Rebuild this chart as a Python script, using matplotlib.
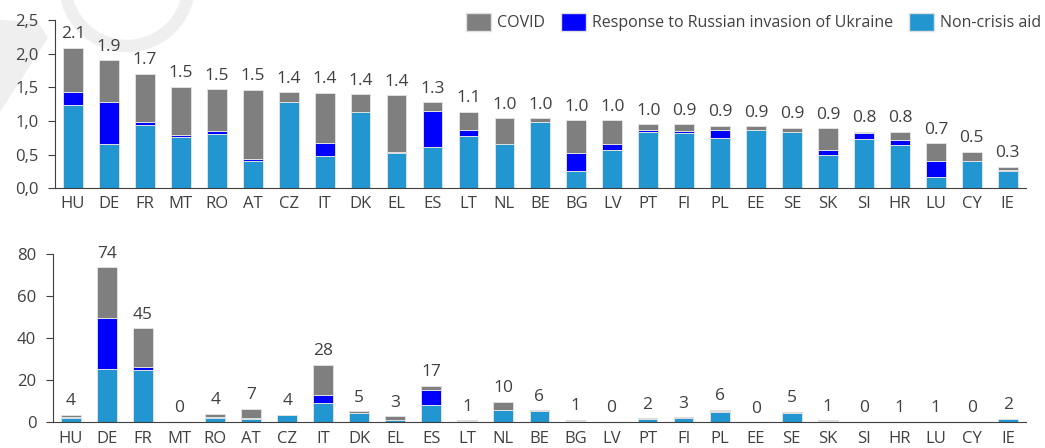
import matplotlib
matplotlib.use("Agg")
import matplotlib.pyplot as plt
import numpy as np
from matplotlib.patches import Patch, Arc, Polygon

plt.rcParams['font.family'] = ['Open Sans', 'DejaVu Sans']

countries = ["HU", "DE", "FR", "MT", "RO", "AT", "CZ", "IT", "DK", "EL", "ES", "LT", "NL", "BE",
             "BG", "LV", "PT", "FI", "PL", "EE", "SE", "SK", "SI", "HR", "LU", "CY", "IE"]

# Top panel: % of GDP
top_noncrisis = [1.24, 0.66, 0.94, 0.76, 0.80, 0.41, 1.28, 0.48, 1.14, 0.52, 0.61, 0.77, 0.65, 0.99,
                 0.26, 0.57, 0.84, 0.82, 0.75, 0.86, 0.83, 0.49, 0.73, 0.64, 0.17, 0.41, 0.26]
top_ukraine = [0.19, 0.62, 0.05, 0.03, 0.05, 0.02, 0.00, 0.19, 0.00, 0.02, 0.54, 0.10, 0.00, 0.00,
               0.26, 0.08, 0.02, 0.03, 0.11, 0.00, 0.01, 0.08, 0.09, 0.08, 0.24, 0.00, 0.01]
top_covid = [0.66, 0.62, 0.71, 0.72, 0.62, 1.03, 0.15, 0.75, 0.26, 0.84, 0.13, 0.27, 0.39, 0.05,
             0.49, 0.36, 0.09, 0.10, 0.07, 0.06, 0.06, 0.32, 0.02, 0.12, 0.26, 0.13, 0.05]
top_labels = ["2.1", "1.9", "1.7", "1.5", "1.5", "1.5", "1.4", "1.4", "1.4", "1.4", "1.3", "1.1", "1.0", "1.0",
              "1.0", "1.0", "1.0", "0.9", "0.9", "0.9", "0.9", "0.9", "0.8", "0.8", "0.7", "0.5", "0.3"]

# Bottom panel: EUR billion
bot_noncrisis = [2.0, 25.4, 25.0, 0.1, 2.2, 1.7, 3.3, 9.0, 4.3, 1.1, 8.1, 0.6, 6.0, 5.4,
                 0.3, 0.1, 1.6, 2.0, 4.9, 0.1, 4.6, 0.6, 0.2, 0.2, 0.1, 0.1, 1.4]
bot_ukraine = [0.3, 24.1, 1.2, 0.0, 0.2, 0.1, 0.0, 3.8, 0.0, 0.1, 7.1, 0.1, 0.0, 0.0,
               0.3, 0.0, 0.05, 0.1, 0.6, 0.0, 0.05, 0.1, 0.0, 0.05, 0.1, 0.0, 0.0]
bot_covid = [1.2, 24.3, 18.4, 0.1, 1.7, 4.5, 0.4, 14.6, 0.9, 1.7, 2.1, 0.3, 3.7, 0.3,
             0.5, 0.1, 0.15, 0.2, 0.5, 0.0, 0.3, 0.3, 0.0, 0.1, 0.1, 0.1, 0.3]
bot_labels = ["4", "74", "45", "0", "4", "7", "4", "28", "5", "3", "17", "1", "10", "6",
              "1", "0", "2", "3", "6", "0", "5", "1", "0", "1", "1", "0", "2"]

series_names = ["COVID", "Response to Russian invasion of Ukraine", "Non-crisis aid"]
c_covid = "#7f7f7f"
c_ukr = "#0000ff"
c_non = "#2196d0"
txt = "#404040"

W, H = 1045, 448
fig = plt.figure(figsize=(W / 100, H / 100), dpi=100)

# faint watermark strokes in the top-left corner (figure pixel coords), behind everything
wm = "#efefef"
fig.patches.append(Arc((127 / W, 1 + 16 / H), 124 / W, 124 / H, theta1=180, theta2=360,
                       transform=fig.transFigure, color=wm, linewidth=9, zorder=-5))
fig.patches.append(Polygon([(0, 1 - 20 / H), (0, 1 - 112 / H), (48 / W, 1 - 38 / H), (38 / W, 1 - 22 / H)],
                           closed=True, transform=fig.transFigure, facecolor=wm, edgecolor="none", zorder=-5))

ax1 = fig.add_axes([0.0526, 0.580, 0.929, 0.375])
ax2 = fig.add_axes([0.0507, 0.0574, 0.931, 0.3755])
for a in (ax1, ax2):
    a.patch.set_alpha(0)
    a.set_zorder(1)

x = np.arange(len(countries))
w = 0.55


def draw(ax, non, ukr, cov, labels, ymax, step, fmt, off):
    non = np.array(non); ukr = np.array(ukr); cov = np.array(cov)
    kw = dict(width=w, edgecolor="#e0e0e0", linewidth=0.7)
    ax.bar(x, non, color=c_non, **kw)
    ax.bar(x, ukr, bottom=non, color=c_ukr, **kw)
    ax.bar(x, cov, bottom=non + ukr, color=c_covid, **kw)
    tot = non + ukr + cov
    for xi, t, lab in zip(x, tot, labels):
        ax.annotate(lab, (xi, t), xytext=(0, off), textcoords="offset points",
                    ha="center", va="bottom", fontsize=12.5, color=txt)
    ax.set_xlim(-0.5, len(countries) - 0.5)
    ax.set_ylim(0, ymax)
    ticks = np.arange(0, ymax + step / 2, step)
    ax.set_yticks(ticks)
    ax.set_yticklabels([fmt(t) for t in ticks], fontsize=12, color=txt)
    ax.set_xticks(x)
    ax.set_xticklabels(countries, fontsize=12, color=txt)
    ax.tick_params(axis="x", length=0, pad=6)
    ax.tick_params(axis="y", length=5, width=0.8, color="#404040", pad=7)
    for s in ["top", "right"]:
        ax.spines[s].set_visible(False)
    ax.spines["left"].set_color("#404040")
    ax.spines["bottom"].set_color("#404040")
    ax.spines["left"].set_linewidth(0.8)
    ax.spines["bottom"].set_linewidth(0.8)


draw(ax1, top_noncrisis, top_ukraine, top_covid, top_labels, 2.5, 0.5,
     lambda t: f"{t:.1f}".replace(".", ","), 4)
draw(ax2, bot_noncrisis, bot_ukraine, bot_covid, bot_labels, 80, 20,
     lambda t: f"{t:.0f}", 4)

handles = [Patch(facecolor=c_covid, edgecolor="#e0e0e0"),
           Patch(facecolor=c_ukr, edgecolor="#e0e0e0"),
           Patch(facecolor=c_non, edgecolor="#e0e0e0")]
fig.legend(handles, series_names, loc="upper right", bbox_to_anchor=(1.007, 0.995),
           ncol=3, frameon=False, fontsize=11.5, handlelength=1.6, handleheight=1.3,
           handletextpad=0.35, columnspacing=1.0, labelcolor=txt, borderaxespad=0.3)

fig.savefig("out.png", dpi=100)
